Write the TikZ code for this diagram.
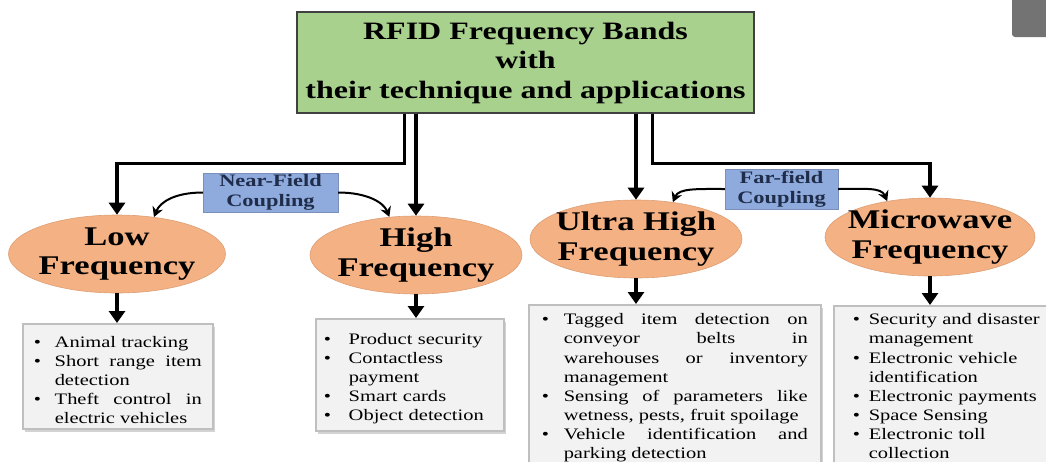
\documentclass[tikz,border=0pt]{standalone}
\usepackage{fontspec}
\setmainfont{Liberation Serif}[FakeStretch=1.28]
\usetikzlibrary{arrows.meta,shapes.geometric,shadows}
\definecolor{headgreen}{HTML}{A9D18E}
\definecolor{coupleblue}{HTML}{8FAADC}
\definecolor{couplefont}{HTML}{1F2D4A}
\definecolor{bandorange}{HTML}{F4B183}
\definecolor{appgray}{HTML}{F2F2F2}
\hbadness=10000
\tolerance=9999
\newlength{\bindent}
\newcommand{\bitem}[1]{\par\noindent\hangindent=\bindent\hangafter=1\makebox[\bindent][l]{\textbullet}#1\par}
\newcommand{\runoff}{\par\nointerlineskip\vskip 12pt\hbox{}}
\tikzset{
  headbox/.style={draw=black!75, line width=1.2pt, fill=headgreen, minimum width=457pt, minimum height=101pt,
    align=center, inner sep=0pt, font=\fontsize{25}{29.5}\selectfont\bfseries},
  couplebox/.style={fill=coupleblue, draw=coupleblue!85!black, line width=0.4pt, inner sep=0pt, align=center,
    text=couplefont, font=\fontsize{17.5}{20}\selectfont\bfseries},
  band/.style={ellipse, fill=bandorange, draw=bandorange!90!black, line width=0.6pt, inner sep=0pt,
    minimum width=212pt, minimum height=78pt},
  bandlbl/.style={align=center, inner sep=0pt, font=\fontsize{27}{29.5}\selectfont\bfseries},
  appbox/.style={anchor=north west, fill=appgray, draw=black!25, line width=1.5pt,
    drop shadow={opacity=0.35, shadow xshift=2pt, shadow yshift=-3pt}, inner ysep=0pt,
    font=\fontsize{16}{19.1}\selectfont},
  conn/.style={line width=3.2pt, -{Triangle[width=16pt,length=12pt]}},
  couple/.style={line width=2pt, -{Stealth[width=11pt,length=10pt]}},
}
\begin{document}
\begin{tikzpicture}[x=1pt,y=-1pt]
\useasboundingbox (0,0) rectangle (1046,461);
% grey corner of the screenshot
\fill[black!55, rounded corners=3pt] (1012,-5) rectangle (1060,37);

\node[headbox] (title) at (525.5,62.5) {RFID Frequency Bands\\with\\their technique and applications};

% frequency bands
\node[band, minimum width=217pt] (lf) at (117,254) {};
\node[band] (hf) at (416,255) {};
\node[band] (uhf) at (636,239) {};
\node[band, minimum width=210pt] (mw) at (930,237) {};
\node[bandlbl] at (lf) {Low\\Frequency};
\node[bandlbl] at (hf) {High\\Frequency};
\node[bandlbl] at (uhf) {Ultra High\\Frequency};
\node[bandlbl] at (mw) {Microwave\\Frequency};

% coupling techniques
\node[couplebox, minimum width=135pt, minimum height=39pt] (nfc) at (270.5,192.5) {Near-Field\\Coupling};
\node[couplebox, minimum width=113pt, minimum height=40pt] (ffc) at (781.5,189) {Far-field\\Coupling};

% applications
\node[appbox, text width=168pt, inner xsep=11pt, minimum height=105pt, align=justify] (lfapp) at (22,323) {%
  \setlength{\bindent}{21pt}%
  \bitem{Animal tracking}%
  \bitem{Short range item\linebreak detection}%
  \bitem{Theft control in\linebreak electric vehicles}};
\node[appbox, text width=172pt, inner xsep=8pt, minimum height=112pt, align=left] (hfapp) at (315,318) {%
  \setlength{\bindent}{25pt}%
  \bitem{Product security}%
  \bitem{Contactless\newline payment}%
  \bitem{Smart cards}%
  \bitem{Object detection}};
\node[appbox, text width=266pt, inner xsep=13pt, inner ysep=1pt, align=justify] (uhfapp) at (528,304) {%
  \setlength{\bindent}{22pt}%
  \bitem{Tagged item detection on\linebreak conveyor belts in\linebreak warehouses or inventory\linebreak management}%
  \bitem{Sensing of parameters like\linebreak wetness, pests, fruit spoilage}%
  \bitem{Vehicle identification and\linebreak parking detection}\runoff};
\node[appbox, text width=200pt, inner xsep=19pt, inner ysep=0pt, align=left] (mwapp) at (833,305) {%
  \setlength{\bindent}{16pt}%
  \bitem{Security and disaster\newline management}%
  \bitem{Electronic vehicle\newline identification}%
  \bitem{Electronic payments}%
  \bitem{Space Sensing}%
  \bitem{Electronic toll\newline collection}\runoff};

% connectors
\draw[conn] ([xshift=-121pt]title.south) -- ++(0,50) -| (lf.north);
\draw[conn] (title.south -| hf.north) -- (hf.north);
\draw[conn] (title.south -| uhf.north) -- (uhf.north);
\draw[conn] ([xshift=127pt]title.south) -- ++(0,50) -| (mw.north);

\draw[couple] (nfc.west) .. controls +(-28,0) and +(6,-15) .. (lf.45);
\draw[couple] (nfc.east) .. controls +(28,0) and +(-6,-15) .. (hf.125);
\draw[couple] (ffc.west) .. controls +(-28,0) and +(6,-14) .. (uhf.45);
\draw[couple] (ffc.east) .. controls +(26,0) and +(-6,-14) .. (mw.140);

\draw[conn] (lf.south) -- (lf.south |- lfapp.north);
\draw[conn] (hf.south) -- (hf.south |- hfapp.north);
\draw[conn] (uhf.south) -- (uhf.south |- uhfapp.north);
\draw[conn] (mw.south) -- (mw.south |- mwapp.north);
\end{tikzpicture}
\end{document}
